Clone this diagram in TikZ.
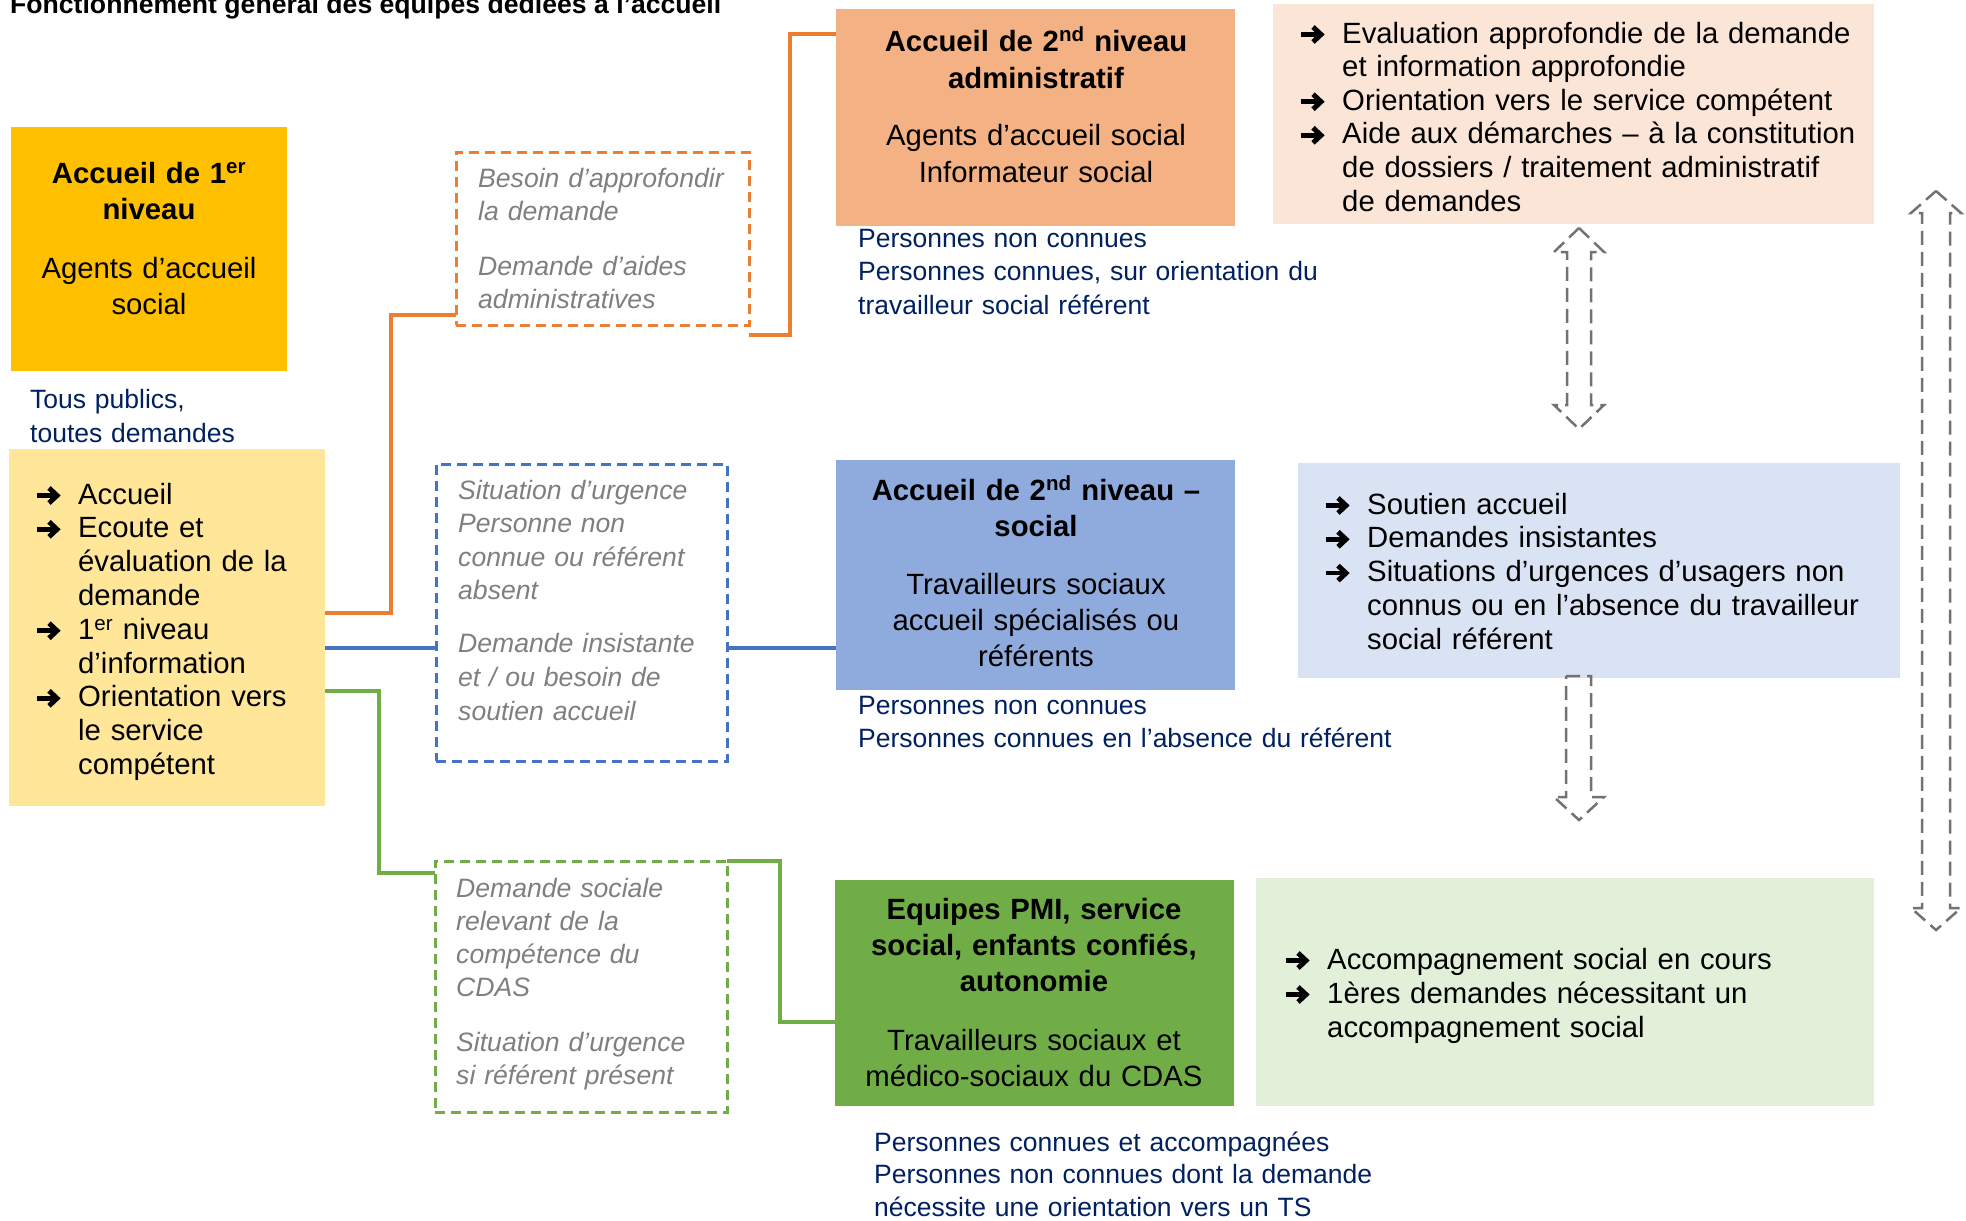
\documentclass[tikz,border=0pt]{standalone}
\usepackage{fontspec}
\setmainfont{Liberation Sans}
\usetikzlibrary{calc}

\definecolor{jaune}{HTML}{FFC000}
\definecolor{jauneclair}{HTML}{FFE699}
\definecolor{orangebox}{HTML}{F4B183}
\definecolor{orangeclair}{HTML}{FBE5D6}
\definecolor{bleubox}{HTML}{8FAADC}
\definecolor{bleuclair}{HTML}{DAE3F3}
\definecolor{vertbox}{HTML}{70AD47}
\definecolor{vertclair}{HTML}{E2F0D9}
\definecolor{orangeline}{HTML}{ED7D31}
\definecolor{bleuline}{HTML}{4472C4}
\definecolor{vertline}{HTML}{70AD47}
\definecolor{marine}{HTML}{002060}
\definecolor{grisTxt}{HTML}{7F7F7F}
\definecolor{grisFleche}{HTML}{767171}

\newsavebox\arrbox
% arrow bullet with hanging indent
\newcommand\barr[1]{\noindent\hangindent=44pt\hangafter=1\makebox[44pt][l]{\usebox\arrbox}#1\par}

\tikzset{
  panel/.style={anchor=north west, inner sep=0pt, outer sep=0pt},
  bodyfont/.style={font=\fontsize{29.3}{#1}\selectfont},
  boxtext/.style={anchor=base, align=center, inner sep=0pt, bodyfont=#1},
  bullets/.style={anchor=base west, inner sep=0pt, text width=#1},
  navy/.style={anchor=base west, align=left, inner sep=0pt, text width=600pt, text=marine, font=\fontsize{26.5}{#1}\selectfont},
  grey/.style={anchor=base west, align=left, inner sep=0pt, text width=270pt, text=grisTxt, font=\itshape\fontsize{26.6}{#1}\selectfont},
  dbox/.style={panel, draw=#1, line width=3pt, dash pattern=on 10pt off 6pt},
  link/.style={draw=#1, line width=3.3pt},
  fleche/.style={draw=grisFleche, line width=2.5pt, dash pattern=on 14pt off 7pt, line join=miter},
}

\begin{document}
% bullet glyph: thick shaft and chevron head
\sbox\arrbox{\begin{pgfpicture}%
  \pgfsetlinewidth{4.6pt}%
  \pgfpathmoveto{\pgfpoint{1pt}{8.5pt}}\pgfpathlineto{\pgfpoint{19pt}{8.5pt}}\pgfusepath{stroke}%
  \pgfsetlinewidth{5pt}\pgfsetmiterlimit{4}%
  \pgfpathmoveto{\pgfpoint{13.5pt}{16pt}}\pgfpathlineto{\pgfpoint{21.5pt}{8.5pt}}%
  \pgfpathlineto{\pgfpoint{13.5pt}{1pt}}\pgfusepath{stroke}%
  \pgfsetbaseline{0pt}%
\end{pgfpicture}}%
\begin{tikzpicture}[x=1pt, y=-1pt]
\useasboundingbox (0,0) rectangle (1966,1221);

% title
\node[anchor=base west, inner sep=0pt, font=\bfseries\fontsize{26.6}{30}\selectfont] (titre) at (10,13)
  {Fonctionnement général des équipes dédiées à l’accueil};

% first level
\node[panel, fill=jaune, minimum width=276pt, minimum height=244pt] (a1) at (11,127) {};
\node[boxtext=36pt, text width=270pt] (a1t) at (149,183)
  {\textbf{Accueil de 1\textsuperscript{er}}\\\textbf{niveau}\\[23pt]Agents d’accueil\\social};
\node[navy=34pt] (a1n) at (30,408) {Tous publics,\\toutes demandes};
\node[panel, fill=jauneclair, minimum width=316pt, minimum height=357pt] (a2) at (9,449) {};
\node[bullets=285pt, bodyfont=33.8pt] (a2t) at (34,504)
  {\barr{Accueil}\barr{Ecoute et\newline évaluation de la\newline demande}\barr{1\textsuperscript{er} niveau\newline d’information}\barr{Orientation vers\newline le service\newline compétent}};

% filter boxes
\node[dbox=orangeline, minimum width=293pt, minimum height=173pt] (od) at (456,152) {};
\node[grey=33pt] (odt) at (478,187) {Besoin d’approfondir\\la demande\\[22pt]Demande d’aides\\administratives};
\node[dbox=bleuline, minimum width=291pt, minimum height=297pt] (bd) at (436,464) {};
\node[grey=33.6pt] (bdt) at (458,499) {Situation d’urgence\\Personne non\\connue ou référent\\absent\\[19.5pt]Demande insistante\\et / ou besoin de\\soutien accueil};
\node[dbox=vertline, minimum width=292pt, minimum height=251pt] (gd) at (435,861) {};
\node[grey=33.3pt] (gdt) at (456,897) {Demande sociale\\relevant de la\\compétence du\\CDAS\\[21pt]Situation d’urgence\\si référent présent};

% second level teams
\node[panel, fill=orangebox, minimum width=399pt, minimum height=217pt] (b1) at (836,9) {};
\node[boxtext=37pt, text width=390pt] (b1t) at (1036,51)
  {\textbf{Accueil de 2\textsuperscript{nd} niveau}\\\textbf{administratif}\\[20pt]Agents d’accueil social\\Informateur social};
\node[navy=33.5pt] (b1n) at (858,247) {Personnes non connues\\Personnes connues, sur orientation du\\travailleur social référent};

\node[panel, fill=bleubox, minimum width=399pt, minimum height=230pt] (b2) at (836,460) {};
\node[boxtext=36pt, text width=390pt] (b2t) at (1036,500)
  {\textbf{Accueil de 2\textsuperscript{nd} niveau –}\\\textbf{social}\\[22pt]Travailleurs sociaux\\accueil spécialisés ou\\référents};
\node[navy=33pt] (b2n) at (858,714) {Personnes non connues\\Personnes connues en l’absence du référent};

\node[panel, fill=vertbox, minimum width=399pt, minimum height=226pt] (b3) at (835,880) {};
\node[boxtext=36pt, text width=390pt] (b3t) at (1034,919)
  {\textbf{Equipes PMI, service}\\\textbf{social, enfants confiés,}\\\textbf{autonomie}\\[23pt]Travailleurs sociaux et\\médico-sociaux du CDAS};
\node[navy=32.5pt] (b3n) at (874,1151) {Personnes connues et accompagnées\\Personnes non connues dont la demande\\nécessite une orientation vers un TS};

% missions
\node[panel, fill=orangeclair, minimum width=601pt, minimum height=220pt] (c1) at (1273,4) {};
\node[bullets=570pt, bodyfont=33.6pt] (c1t) at (1298,43)
  {\barr{Evaluation approfondie de la demande\newline et information approfondie}\barr{Orientation vers le service compétent}\barr{Aide aux démarches – à la constitution\newline de dossiers / traitement administratif\newline de demandes}};
\node[panel, fill=bleuclair, minimum width=602pt, minimum height=215pt] (c2) at (1298,463) {};
\node[bullets=560pt, bodyfont=33.8pt] (c2t) at (1323,514)
  {\barr{Soutien accueil}\barr{Demandes insistantes}\barr{Situations d’urgences d’usagers non\newline connus ou en l’absence du travailleur\newline social référent}};
\node[panel, fill=vertclair, minimum width=618pt, minimum height=228pt] (c3) at (1256,878) {};
\node[bullets=580pt, bodyfont=34pt] (c3t) at (1283,969)
  {\barr{Accompagnement social en cours}\barr{1ères demandes nécessitant un\newline accompagnement social}};

% connectors
\draw[link=orangeline] (a2.east |- 0,613) -| (391,315) -- (od.west |- 0,315);
\draw[link=orangeline] (od.east |- 0,335) -| (790,34) -- (b1.west |- 0,34);
\draw[link=bleuline] (a2.east |- 0,648) -- (bd.west |- 0,648);
\draw[link=bleuline] (bd.east |- 0,648) -- (b2.west |- 0,648);
\draw[link=vertline] (a2.east |- 0,691) -| (379,873) -- (gd.west |- 0,873);
\draw[link=vertline] (gd.north east) -| (780,1022) -- (b3.west |- 0,1022);

% hollow dashed arrows between the mission panels
\draw[fleche] (1579,228) -- (1604,252) -- (1591,252) -- (1591,405) -- (1604,405)
  -- (1579,429) -- (1554,405) -- (1567,405) -- (1567,252) -- (1554,252) -- cycle;
\draw[fleche] (1566,676) -- (1591,676) -- (1591,797) -- (1604,797) -- (1579,820)
  -- (1554,797) -- (1566,797) -- cycle;
\draw[fleche] (1936,191) -- (1961,213) -- (1950,213) -- (1950,908) -- (1961,908)
  -- (1936,930) -- (1911,908) -- (1922,908) -- (1922,213) -- (1911,213) -- cycle;
\end{tikzpicture}
\end{document}
